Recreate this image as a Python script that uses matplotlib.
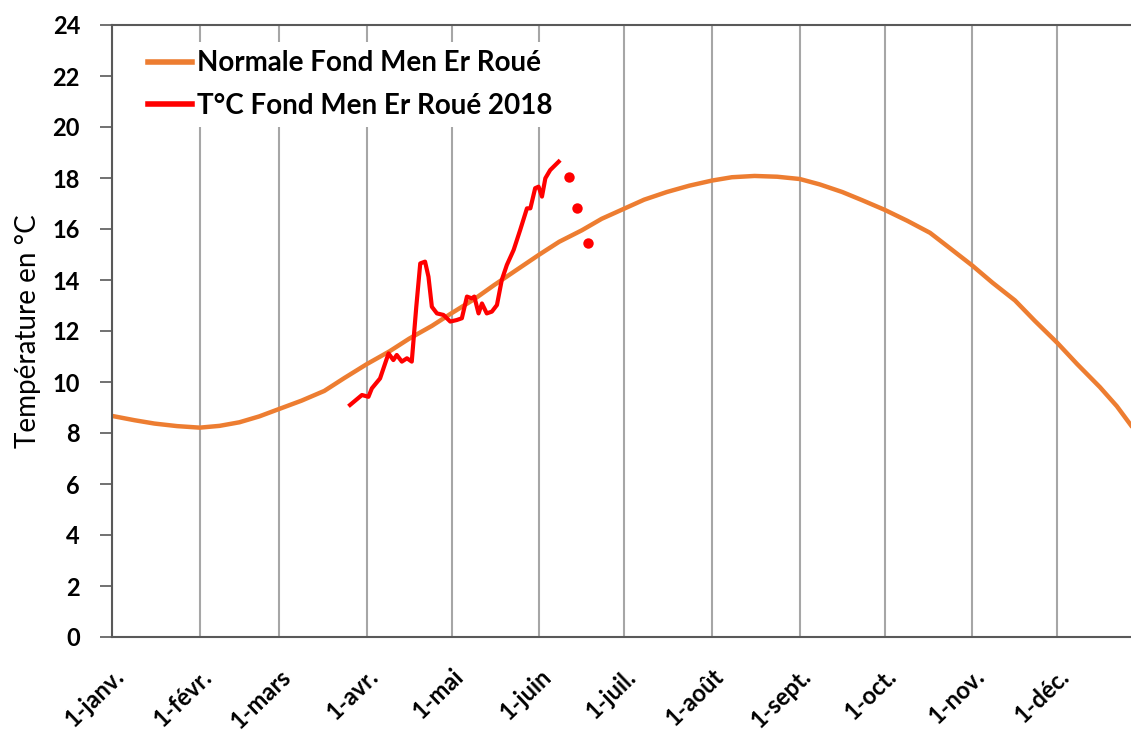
import matplotlib.pyplot as plt
import matplotlib.transforms as mtransforms

# Normal curve, day of year -> temperature
normal_days = [0, 8, 15, 23, 31, 38, 45, 52, 59, 67, 75, 82, 90, 98, 105, 113,
               120, 128, 135, 143, 151, 158, 166, 173, 181, 188, 196, 204, 212,
               219, 227, 235, 243, 250, 258, 265, 273, 281, 289, 296, 304, 311,
               319, 326, 334, 341, 349, 355, 360]
normal_temp = [8.67, 8.5, 8.37, 8.27, 8.21, 8.28, 8.42, 8.65, 8.94, 9.27, 9.65,
               10.15, 10.7, 11.2, 11.7, 12.2, 12.7, 13.25, 13.8, 14.4, 15.0,
               15.5, 15.95, 16.4, 16.8, 17.15, 17.45, 17.7, 17.9, 18.03, 18.08,
               18.05, 17.96, 17.75, 17.45, 17.13, 16.75, 16.32, 15.85, 15.25,
               14.56, 13.9, 13.2, 12.4, 11.53, 10.7, 9.8, 9.05, 8.3]

# 2018 record
t2018_days = [84.1, 88.3, 90.6, 91.8, 94.7, 97.7, 99.4, 100.6, 102.4, 104.2,
              105.9, 107.5, 108.9, 110.6, 111.8, 113.0, 114.8, 117.1, 119.5,
              121.8, 123.6, 125.4, 127.1, 128.0, 129.5, 130.7, 132.4, 134.2,
              136.0, 137.7, 139.5, 141.9, 144.2, 146.6, 147.8, 149.5, 150.7,
              151.9, 153.1, 154.8, 157.8]
t2018_temp = [9.10, 9.49, 9.42, 9.75, 10.14, 11.12, 10.86, 11.06, 10.8, 10.93,
              10.8, 12.95, 14.65, 14.72, 14.13, 12.95, 12.69, 12.63, 12.37,
              12.43, 12.5, 13.35, 13.28, 13.35, 12.69, 13.08, 12.69, 12.76,
              13.02, 14.0, 14.59, 15.18, 15.96, 16.81, 16.81, 17.6, 17.66,
              17.27, 17.99, 18.31, 18.64]
dots_days = [161.3, 164.2, 168.1]
dots_temp = [18.05, 16.84, 15.46]

month_days = [0, 31, 59, 90, 120, 151, 181, 212, 243, 273, 304, 334]
month_labels = ['1-janv.', '1-févr.', '1-mars', '1-avr.', '1-mai', '1-juin',
                '1-juil.', '1-août', '1-sept.', '1-oct.', '1-nov.', '1-déc.']

plt.rcParams['font.family'] = ['Lato', 'DejaVu Sans']

fig = plt.figure(figsize=(11.31, 7.37), dpi=100)
ax = fig.add_axes([112 / 1131, 100 / 737, 1 - 112 / 1131, 612 / 737])

ax.plot(normal_days, normal_temp, color='#ED7D31', lw=3.2, label='Normale Fond Men Er Roué')
ax.plot(t2018_days, t2018_temp, color='#FF0000', lw=3, label='T°C Fond Men Er Roué 2018')
ax.plot(dots_days, dots_temp, 'o', color='#FF0000', ms=7.5, mec='none')

ax.set_xlim(0, 360)
ax.set_ylim(0, 24)
ax.set_yticks(range(0, 25, 2))
ax.set_xticks(month_days)
ax.set_xticklabels(month_labels, rotation=44, ha='right', va='top',
                   rotation_mode='anchor', fontsize=17, fontweight='bold')
offset = mtransforms.ScaledTranslation(8 / 100, 0, fig.dpi_scale_trans)
for lab in ax.get_xticklabels():
    lab.set_transform(lab.get_transform() + offset)
ax.tick_params(axis='x', length=0, pad=20)
ax.tick_params(axis='y', length=9, width=1.2, color='#595959', pad=14,
               labelsize=17)
for lab in ax.get_yticklabels():
    lab.set_fontweight('bold')

ax.grid(axis='x', color='#a6a6a6', lw=1.5)
ax.set_axisbelow(True)
for side in ['left', 'bottom', 'top']:
    ax.spines[side].set_color('#595959')
    ax.spines[side].set_linewidth(1.5)
ax.spines['right'].set_visible(False)

ax.set_ylabel('Température en °C', fontsize=20, labelpad=8)

leg = ax.legend(loc='upper left', bbox_to_anchor=(0.0275, 0.972), fontsize=20,
                handlelength=1.58, handletextpad=0.18, labelspacing=0.6,
                borderpad=0.3, borderaxespad=0, frameon=True, fancybox=False,
                framealpha=1, facecolor='white', edgecolor='none')
for t in leg.get_texts():
    t.set_fontweight('bold')
for h in leg.get_lines():
    h.set_linewidth(4)

fig.savefig('out.png', dpi=100)
